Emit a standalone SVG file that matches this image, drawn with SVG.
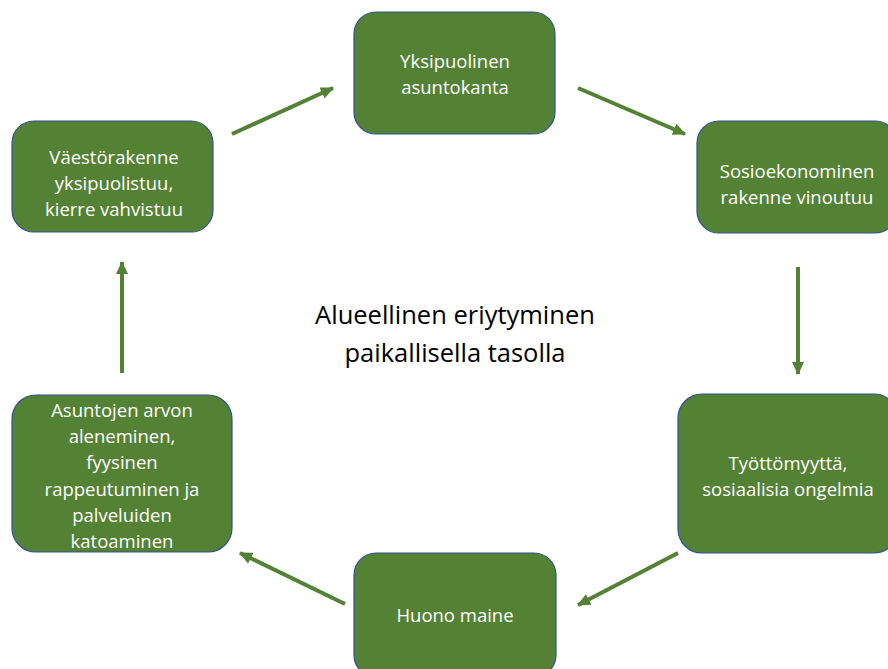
<svg xmlns="http://www.w3.org/2000/svg" width="888" height="669" viewBox="0 0 888 669">
<style>
.box{fill:#548235;stroke:#2F528F;stroke-width:1.2}
.lbl{font-family:"Open Sans","Liberation Sans",sans-serif;font-size:18.5px;fill:#ffffff;text-anchor:middle}
.ctr{font-family:"Open Sans","Liberation Sans",sans-serif;font-size:25.5px;fill:#000000;text-anchor:middle}
.arr{stroke:#548235;stroke-width:4;fill:none;marker-end:url(#ah)}
</style>
<defs>
<marker id="ah" markerUnits="userSpaceOnUse" markerWidth="14" markerHeight="14" viewBox="0 0 14 14" refX="12" refY="7" orient="auto">
<path d="M0,1 L13,7 L0,13 Z" fill="#548235"/>
</marker>
</defs>
<rect width="888" height="669" fill="#ffffff"/>
<g id="connectors">
<line class="arr" x1="232" y1="134" x2="333" y2="88"/>
<line class="arr" x1="578" y1="88" x2="685" y2="134"/>
<line class="arr" x1="798" y1="267" x2="798" y2="374"/>
<line class="arr" x1="678" y1="553" x2="578" y2="605"/>
<line class="arr" x1="345" y1="604" x2="240" y2="553"/>
<line class="arr" x1="122" y1="373" x2="122" y2="262"/>
</g>
<g id="node-top">
<rect class="box" x="354" y="12" width="201" height="122" rx="22"/>
<text class="lbl" x="455" y="68">Yksipuolinen</text>
<text class="lbl" x="455" y="94">asuntokanta</text>
</g>
<g id="node-right">
<rect class="box" x="697" y="121" width="200" height="112" rx="22"/>
<text class="lbl" x="797" y="178">Sosioekonominen</text>
<text class="lbl" x="797" y="204">rakenne vinoutuu</text>
</g>
<g id="node-right-bottom">
<rect class="box" x="678" y="394" width="220" height="159" rx="24"/>
<text class="lbl" x="788" y="470">Työttömyyttä,</text>
<text class="lbl" x="788" y="496">sosiaalisia ongelmia</text>
</g>
<g id="node-bottom">
<rect class="box" x="354" y="553" width="202" height="124" rx="22"/>
<text class="lbl" x="455" y="622">Huono maine</text>
</g>
<g id="node-left-bottom">
<rect class="box" x="12" y="395" width="220" height="157" rx="24"/>
<text class="lbl" x="122" y="417">Asuntojen arvon</text>
<text class="lbl" x="122" y="443">aleneminen,</text>
<text class="lbl" x="122" y="469">fyysinen</text>
<text class="lbl" x="122" y="496">rappeutuminen ja</text>
<text class="lbl" x="122" y="522">palveluiden</text>
<text class="lbl" x="122" y="548">katoaminen</text>
</g>
<g id="node-left-top">
<rect class="box" x="12" y="121" width="201" height="111" rx="22"/>
<text class="lbl" x="114" y="164">Väestörakenne</text>
<text class="lbl" x="114" y="190">yksipuolistuu,</text>
<text class="lbl" x="114" y="216">kierre vahvistuu</text>
</g>
<g id="center-label">
<text class="ctr" x="455" y="324">Alueellinen eriytyminen</text>
<text class="ctr" x="455" y="362">paikallisella tasolla</text>
</g>
</svg>
